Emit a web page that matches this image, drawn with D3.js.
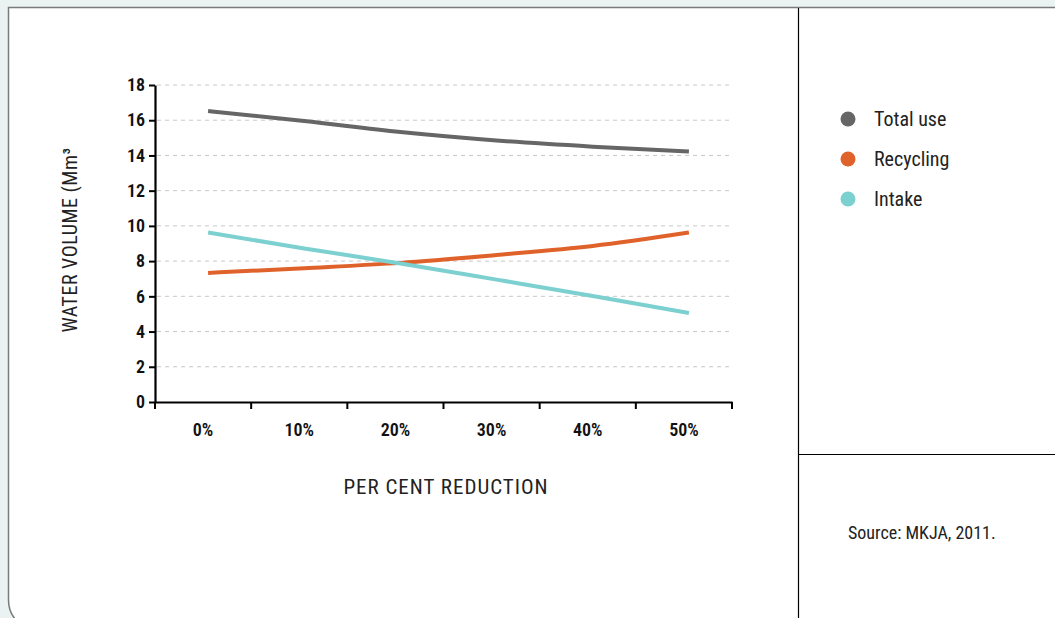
<!DOCTYPE html>
<html><head><meta charset="utf-8">
<script src="https://cdn.jsdelivr.net/npm/d3@7"></script>
<style>
html,body{margin:0;padding:0;background:#eaf3f2;}
svg{display:block;}
text{font-family:"Liberation Sans Narrow","Roboto Condensed","DejaVu Sans Condensed",sans-serif;}
</style></head><body>
<svg id="c" width="1055" height="618"></svg>
<script>
const categories = ["0%","10%","20%","30%","40%","50%"];
const totalUse  = [16.52, 15.95, 15.33, 14.85, 14.5, 14.22];
const recycling = [7.33, 7.6, 7.9, 8.35, 8.86, 9.62];
const intake    = [9.62, 8.72, 7.87, 6.95, 6.02, 5.05];
const yTicks = [0,2,4,6,8,10,12,14,16,18];
const seriesNames = ["Total use","Recycling","Intake"];
const seriesColors = ["#666666","#e0622b","#7dd0d0"];
const seriesData = [totalUse, recycling, intake];
const yTitle = "WATER VOLUME (Mm³";
const xTitle = "PER CENT REDUCTION";
const source = "Source: MKJA, 2011.";

const svg = d3.select("#c");
// card
svg.append("path")
  .attr("d","M8.5,600 Q8.5,612 16,620 L1060,620 L1060,7.5 L8.5,7.5 Z")
  .attr("fill","#fff").attr("stroke","none");
svg.append("path")
  .attr("d","M16,620 Q8.5,612 8.5,600 L8.5,7.5 L1060,7.5")
  .attr("fill","none").attr("stroke","#7a7a7a").attr("stroke-width",1.5);
// dividers
svg.append("line").attr("x1",798.5).attr("x2",798.5).attr("y1",8).attr("y2",618).attr("stroke","#000").attr("stroke-width",1.2);
svg.append("line").attr("x1",798).attr("x2",1055).attr("y1",454.5).attr("y2",454.5).attr("stroke","#000").attr("stroke-width",1.2);

const x = d3.scaleBand().domain(categories).range([155,732]);
const y = d3.scaleLinear().domain([0,18]).range([402,85]);

// grid
svg.append("g").selectAll("line").data(yTicks.filter(d=>d>0)).join("line")
  .attr("x1",157).attr("x2",732)
  .attr("y1",d=>y(d)).attr("y2",d=>y(d))
  .attr("stroke","#c8c8c8").attr("stroke-width",1).attr("stroke-dasharray","4,4");

// y axis
const ya = svg.append("g").attr("transform","translate(155,0)")
  .call(d3.axisLeft(y).tickValues(yTicks).tickSize(6).tickSizeOuter(0).tickPadding(4));
ya.select(".domain").attr("stroke","#000").attr("stroke-width",2.2);
ya.selectAll(".tick line").attr("stroke","#000").attr("stroke-width",2);
ya.selectAll(".tick text").attr("font-size",18).attr("font-weight",600).attr("fill","#111");

// x axis
const xa = svg.append("g").attr("transform","translate(0,402)")
  .call(d3.axisBottom(x).tickSize(0).tickPadding(21));
xa.select(".domain").attr("stroke","#000").attr("stroke-width",2.2);
xa.selectAll(".tick text").attr("font-size",18).attr("font-weight",600).attr("fill","#111");
const edges = categories.map(c=>x(c)).concat([x.range()[1]]);
svg.append("g").selectAll("line").data(edges).join("line")
  .attr("x1",d=>d).attr("x2",d=>d).attr("y1",402).attr("y2",409)
  .attr("stroke","#000").attr("stroke-width",2);

// lines
const line = d3.line()
  .x((d,i)=>x(categories[i])+x.bandwidth()/2+5)
  .y(d=>y(d))
  .curve(d3.curveMonotoneX);
seriesData.forEach((s,k)=>{
  svg.append("path").datum(s).attr("d",line)
    .attr("fill","none").attr("stroke",seriesColors[k]).attr("stroke-width",4);
});

// titles
svg.append("text").attr("transform","translate(77,240) rotate(-90)")
  .attr("text-anchor","middle").attr("font-size",20).attr("letter-spacing",0.5).attr("fill","#222").text(yTitle);
svg.append("text").attr("x",446).attr("y",494).attr("text-anchor","middle")
  .attr("font-size",21).attr("letter-spacing",1).attr("fill","#222").text(xTitle);

// legend
const lg = svg.append("g").selectAll("g").data(seriesNames).join("g")
  .attr("transform",(d,i)=>`translate(848,${119+i*40})`);
lg.append("circle").attr("r",7.5).attr("fill",(d,i)=>seriesColors[i]);
lg.append("text").attr("x",26).attr("y",7).attr("font-size",20).attr("fill","#222").text(d=>d);

svg.append("text").attr("x",848).attr("y",539).attr("font-size",18).attr("fill","#222").text(source);
</script>
</body></html>
